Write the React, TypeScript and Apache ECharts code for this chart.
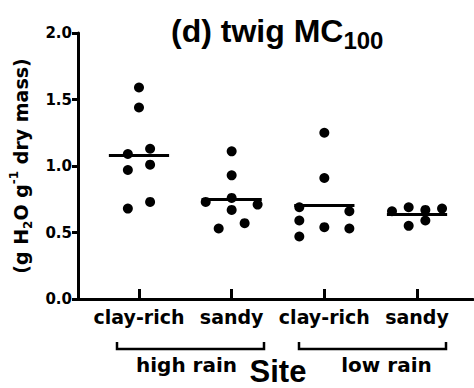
import React, { useEffect, useRef } from 'react';
import * as echarts from 'echarts';

// Categories
const siteTypes = ['clay-rich', 'sandy', 'clay-rich', 'sandy'];
const rainGroups = ['high rain', 'low rain'];
const yTickValues = [0, 0.5, 1.0, 1.5, 2.0];

// Twig moisture content values (g H2O g-1 dry mass) per site
const clayHighValues = [1.59, 1.44, 1.09, 1.13, 0.97, 1.01, 0.68, 0.73];
const clayHighJitter = [0, 0, -0.12, 0.12, -0.12, 0.12, -0.12, 0.12];
const sandyHighValues = [1.11, 0.93, 0.73, 0.76, 0.71, 0.67, 0.57, 0.53];
const sandyHighJitter = [0, 0, -0.28, 0, 0.28, 0, 0.14, -0.14];
const clayLowValues = [1.25, 0.91, 0.69, 0.66, 0.59, 0.54, 0.53, 0.47];
const clayLowJitter = [0, 0, -0.27, 0.27, -0.27, 0, 0.27, -0.27];
const sandyLowValues = [0.66, 0.69, 0.67, 0.68, 0.55, 0.59];
const sandyLowJitter = [-0.27, -0.09, 0.09, 0.27, -0.09, 0.09];

const groupValues = [clayHighValues, sandyHighValues, clayLowValues, sandyLowValues];
const groupJitter = [clayHighJitter, sandyHighJitter, clayLowJitter, sandyLowJitter];

const SMALL_FONT = '"DejaVu Sans", sans-serif';
const BIG_FONT = '"Liberation Sans", Arial, sans-serif';

export default function App() {
  const ref = useRef<HTMLDivElement>(null);

  useEffect(() => {
    if (!ref.current) return;
    const chart = echarts.init(ref.current, undefined, { renderer: 'svg' });

    const points: number[][] = [];
    groupValues.forEach((vals, gi) => {
      vals.forEach((v, j) => points.push([gi + 1 + groupJitter[gi][j], v]));
    });
    const means = groupValues.map((vals) => vals.reduce((a, b) => a + b, 0) / vals.length);
    const half = 0.325;

    chart.setOption({
      animation: false,
      backgroundColor: '#fff',
      title: {
        text: '{a|(d) twig MC}{b|100}',
        left: 171,
        top: 10,
        padding: 0,
        textStyle: {
          rich: {
            a: { fontFamily: BIG_FONT, fontWeight: 'bold', fontSize: 32, lineHeight: 42, verticalAlign: 'middle', color: '#000' },
            b: { fontFamily: BIG_FONT, fontWeight: 'bold', fontSize: 24, lineHeight: 22, verticalAlign: 'bottom', color: '#000' },
          },
        },
      },
      grid: { left: 78, right: 1, top: 33, bottom: 89 },
      xAxis: {
        type: 'value',
        min: 0.342,
        max: 4.604,
        axisLine: { lineStyle: { color: '#000', width: 3 } },
        axisTick: {
          customValues: [1, 2, 3, 4],
          inside: true,
          length: 10,
          lineStyle: { color: '#000', width: 3 },
        },
        axisLabel: {
          customValues: [1, 2, 3, 4],
          formatter: (v: number) => siteTypes[Math.round(v) - 1] ?? '',
          fontFamily: SMALL_FONT,
          fontWeight: 'bold',
          fontSize: 19,
          color: '#000',
          margin: 8,
        },
        splitLine: { show: false },
      },
      yAxis: {
        type: 'value',
        min: yTickValues[0],
        max: yTickValues[yTickValues.length - 1],
        interval: 0.5,
        name: '{a|(g H}{sub|2}{a|O g}{sup|-1}{a| dry mass)}',
        nameLocation: 'middle',
        nameRotate: 90,
        nameGap: 44,
        nameTextStyle: {
          rich: {
            a: { fontFamily: SMALL_FONT, fontWeight: 'bold', fontSize: 19, lineHeight: 26, verticalAlign: 'middle', color: '#000' },
            sub: { fontFamily: SMALL_FONT, fontWeight: 'bold', fontSize: 12, lineHeight: 12, verticalAlign: 'bottom', color: '#000' },
            sup: { fontFamily: SMALL_FONT, fontWeight: 'bold', fontSize: 12, lineHeight: 12, verticalAlign: 'top', color: '#000' },
          },
        },
        axisLine: { show: true, lineStyle: { color: '#000', width: 3 } },
        axisTick: { show: true, length: 6, lineStyle: { color: '#000', width: 3 } },
        axisLabel: {
          formatter: (v: number) => v.toFixed(1),
          fontFamily: SMALL_FONT,
          fontWeight: 'bold',
          fontSize: 15,
          color: '#000',
          margin: 6,
        },
        splitLine: { show: false },
      },
      series: [
        {
          type: 'scatter',
          data: points,
          symbol: 'circle',
          symbolSize: 10,
          itemStyle: { color: '#000', opacity: 1 },
        },
        {
          type: 'lines',
          coordinateSystem: 'cartesian2d',
          data: means.map((m, i) => ({ coords: [[i + 1 - half, m], [i + 1 + half, m]] })),
          lineStyle: { color: '#000', width: 3, opacity: 1 },
          z: 3,
        },
      ],
      graphic: [
        {
          type: 'polyline',
          shape: { points: [[117, 342], [117, 349], [264, 349], [264, 342]] },
          style: { stroke: '#000', lineWidth: 2.5, fill: 'none' },
        },
        {
          type: 'polyline',
          shape: { points: [[299, 342], [299, 349], [446, 349], [446, 342]] },
          style: { stroke: '#000', lineWidth: 2.5, fill: 'none' },
        },
        {
          type: 'text',
          x: 186.5,
          y: 365,
          style: { text: rainGroups[0], fontFamily: SMALL_FONT, fontWeight: 'bold', fontSize: 20, fill: '#000', align: 'center', verticalAlign: 'middle' },
        },
        {
          type: 'text',
          x: 386.5,
          y: 365,
          style: { text: rainGroups[1], fontFamily: SMALL_FONT, fontWeight: 'bold', fontSize: 20, fill: '#000', align: 'center', verticalAlign: 'middle' },
        },
        {
          type: 'text',
          x: 278,
          y: 371.5,
          style: { text: 'Site', fontFamily: BIG_FONT, fontWeight: 'bold', fontSize: 31, fill: '#000', align: 'center', verticalAlign: 'middle' },
        },
      ],
    });

    return () => chart.dispose();
  }, []);

  return (
    <div
      ref={ref}
      style={{ position: 'fixed', left: 0, top: 0, width: 474, height: 388, background: '#fff' }}
    />
  );
}
